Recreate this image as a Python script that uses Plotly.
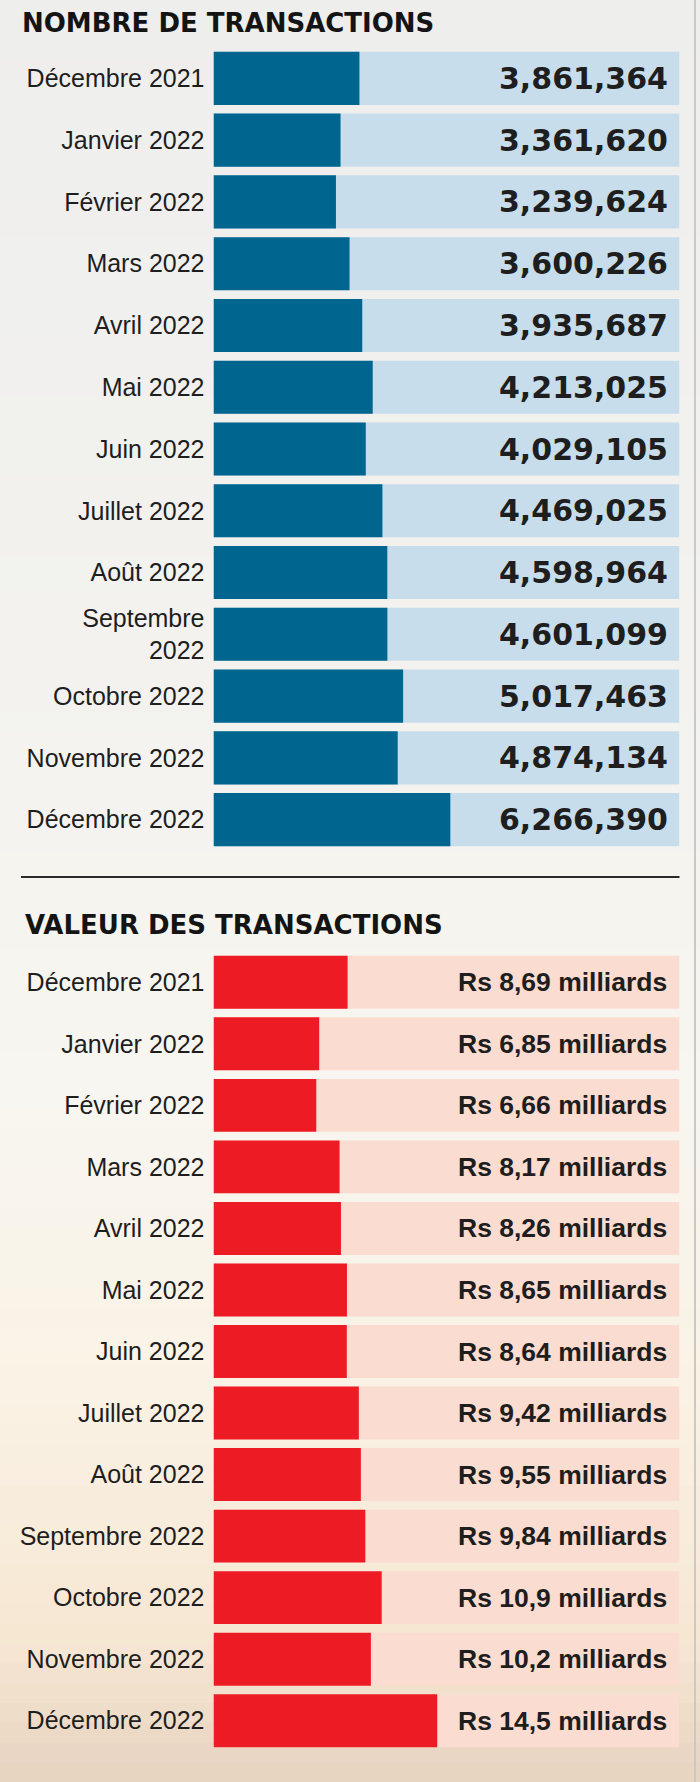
import plotly.graph_objects as go

# ---------------- data ----------------
months = ["Décembre 2021", "Janvier 2022", "Février 2022", "Mars 2022", "Avril 2022",
          "Mai 2022", "Juin 2022", "Juillet 2022", "Août 2022", "Septembre 2022",
          "Octobre 2022", "Novembre 2022", "Décembre 2022"]
labels_nombre = ["Décembre 2021", "Janvier 2022", "Février 2022", "Mars 2022", "Avril 2022",
                 "Mai 2022", "Juin 2022", "Juillet 2022", "Août 2022", "Septembre<br>2022",
                 "Octobre 2022", "Novembre 2022", "Décembre 2022"]
labels_valeur = months
nombre = [3861364, 3361620, 3239624, 3600226, 3935687, 4213025, 4029105,
          4469025, 4598964, 4601099, 5017463, 4874134, 6266390]
valeur = [8.69, 6.85, 6.66, 8.17, 8.26, 8.65, 8.64, 9.42, 9.55, 9.84, 10.9, 10.2, 14.5]  # milliards Rs
title_nombre = "NOMBRE DE TRANSACTIONS"
title_valeur = "VALEUR DES TRANSACTIONS"
max_nombre = 12330000
max_valeur = 30.2

# ---------------- style ----------------
W, H = 700, 1782
BLUE, BLUE_BG = "#00658F", "#C8DDEB"
RED, RED_BG = "#ED1C24", "#FBDCD0"
TXT = "#1E1E1E"

def py(px):
    return 1 - px / H

x_dom = [213.5 / W, 679.5 / W]
y1_dom = [py(850.5), py(47.5)]
y2_dom = [py(1751.5), py(951.5)]

fig = go.Figure()

# section 1
fig.add_trace(go.Bar(y=months, x=[max_nombre] * len(months), orientation="h",
                     marker=dict(color=BLUE_BG, line_width=0), xaxis="x", yaxis="y",
                     hoverinfo="skip", showlegend=False))
fig.add_trace(go.Bar(y=months, x=nombre, orientation="h",
                     marker=dict(color=BLUE, line_width=0), xaxis="x", yaxis="y",
                     showlegend=False))
# section 2
fig.add_trace(go.Bar(y=months, x=[max_valeur] * len(months), orientation="h",
                     marker=dict(color=RED_BG, line_width=0), xaxis="x2", yaxis="y2",
                     hoverinfo="skip", showlegend=False))
fig.add_trace(go.Bar(y=months, x=valeur, orientation="h",
                     marker=dict(color=RED, line_width=0), xaxis="x2", yaxis="y2",
                     showlegend=False))

annotations = []
for m, v in zip(months, nombre):
    annotations.append(dict(x=max_nombre, y=m, xref="x", yref="y", text=f"{v:,}",
                            xanchor="right", yanchor="middle", xshift=-10, showarrow=False,
                            font=dict(family="DejaVu Sans", size=30, color=TXT, weight="bold")))
for m, v in zip(months, valeur):
    lab = "Rs " + f"{v:.3g}".replace(".", ",") + " milliards"
    annotations.append(dict(x=max_valeur, y=m, xref="x2", yref="y2", text=lab,
                            xanchor="right", yanchor="middle", xshift=-11, showarrow=False,
                            font=dict(family="Liberation Sans", size=26.5, color=TXT, weight="bold")))
annotations.append(dict(x=20 / W, y=py(22.5), xref="paper", yref="paper", text=title_nombre,
                        xanchor="left", yanchor="middle", showarrow=False,
                        font=dict(family="DejaVu Sans", size=26, color="#141414", weight="bold")))
annotations.append(dict(x=23 / W, y=py(925), xref="paper", yref="paper", text=title_valeur,
                        xanchor="left", yanchor="middle", showarrow=False,
                        font=dict(family="DejaVu Sans", size=26, color="#141414", weight="bold")))

# background gradient bands
stops = [(0, (238, 238, 237)), (800, (244, 243, 239)), (1100, (248, 246, 240)),
         (1400, (250, 242, 228)), (1650, (246, 230, 210)), (1782, (230, 210, 192))]
shapes = []
nb = 90
for i in range(nb):
    y0, y1 = i * H / nb, (i + 1) * H / nb
    yc = (y0 + y1) / 2
    for (a, ca), (b, cb) in zip(stops[:-1], stops[1:]):
        if a <= yc <= b:
            t = (yc - a) / (b - a)
            c = tuple(round(ca[k] + (cb[k] - ca[k]) * t) for k in range(3))
            break
    shapes.append(dict(type="rect", xref="paper", yref="paper", x0=0, x1=1,
                       y0=py(y1 + 0.5), y1=py(y0), fillcolor=f"rgb{c}", line_width=0,
                       layer="below"))
# separator line
shapes.append(dict(type="line", xref="paper", yref="paper", x0=21 / W, x1=679.5 / W,
                   y0=py(877), y1=py(877), line=dict(color="#2a2a2a", width=2)))
# right edge line
shapes.append(dict(type="line", xref="paper", yref="paper", x0=695 / W, x1=695 / W,
                   y0=0, y1=1, line=dict(color="#c9c9c9", width=2)))

axis_x = dict(showgrid=False, zeroline=False, showticklabels=False, showline=False, fixedrange=True)
tick_font = dict(family="Liberation Sans", size=25, color=TXT)
fig.update_layout(
    width=W, height=H,
    margin=dict(l=0, r=0, t=0, b=0),
    paper_bgcolor="#F4F3EF", plot_bgcolor="rgba(0,0,0,0)",
    barmode="overlay", bargap=0.14,
    xaxis=dict(domain=x_dom, range=[0, max_nombre], anchor="y", **axis_x),
    xaxis2=dict(domain=x_dom, range=[0, max_valeur], anchor="y2", **axis_x),
    yaxis=dict(domain=y1_dom, type="category", range=[len(months) - 0.5, -0.5],
               tickvals=months, ticktext=labels_nombre, ticks="", showgrid=False,
               zeroline=False, showline=False, ticklabelstandoff=8, anchor="x",
               tickfont=tick_font),
    yaxis2=dict(domain=y2_dom, type="category", range=[len(months) - 0.5, -0.5],
                tickvals=months, ticktext=labels_valeur, ticks="", showgrid=False,
                zeroline=False, showline=False, ticklabelstandoff=8, anchor="x2",
                tickfont=tick_font),
    annotations=annotations,
    shapes=shapes,
)

fig.write_html("out.html", config={"displayModeBar": False},
               post_script="document.body.style.margin='0';")
